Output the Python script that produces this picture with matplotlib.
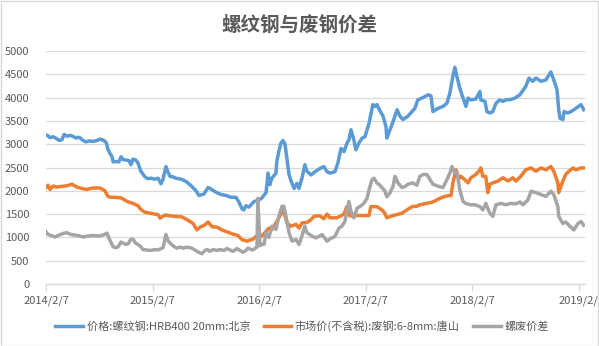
import matplotlib
matplotlib.use("Agg")
import matplotlib.pyplot as plt
import matplotlib.dates as mdates
from matplotlib.patches import Rectangle
import pandas as pd

plt.rcParams['font.family'] = ['Noto Sans CJK SC', 'DejaVu Sans']

title = "螺纹钢与废钢价差"
start_date = "2014-02-07"
series_names = ["价格:螺纹钢:HRB400 20mm:北京", "市场价(不含税):废钢:6-8mm:唐山", "螺废价差"]
tick_dates = ["2014-02-07", "2015-02-07", "2016-02-07", "2017-02-07", "2018-02-07", "2019-02-07"]
tick_labels = ["2014/2/7", "2015/2/7", "2016/2/7", "2017/2/7", "2018/2/7", "2019/2/"]
y_ticks = [0, 500, 1000, 1500, 2000, 2500, 3000, 3500, 4000, 4500, 5000]

# days since start_date, values
rebar_days = [0, 7, 14, 24, 34, 45, 55, 62, 72, 82, 92, 103, 110, 116, 127, 137, 147, 161, 175, 185,
              195, 206, 212, 219, 226, 230, 240, 250, 257, 264, 274, 284, 291, 298, 308, 315, 325, 339,
              349, 360, 373, 384, 394, 401, 411, 418, 425, 435, 445, 463, 480, 497, 514, 524, 541, 555,
              565, 582, 600, 617, 634, 651, 661, 672, 678, 685, 695, 713, 730, 740, 754, 761, 767, 774,
              788, 791, 798, 805, 812, 819, 826, 833, 843, 850, 860, 867, 877, 887, 894, 908, 922, 939,
              952, 963, 973, 990, 1000, 1011, 1021, 1031, 1038, 1045, 1055, 1062, 1072, 1083, 1093, 1107,
              1113, 1120, 1127, 1134, 1144, 1155, 1165, 1168, 1179, 1189, 1203, 1213, 1223, 1240, 1254,
              1264, 1274, 1288, 1298, 1309, 1319, 1326, 1343, 1360, 1374, 1384, 1394, 1401, 1408, 1418,
              1429, 1439, 1446, 1456, 1473, 1487, 1490, 1504, 1511, 1521, 1531, 1542, 1555, 1566, 1576,
              1593, 1607, 1624, 1644, 1655, 1668, 1679, 1696, 1713, 1730, 1740, 1751, 1757, 1761, 1771,
              1775, 1788, 1799, 1816, 1833, 1843]
rebar_vals = [3200, 3180, 3140, 3160, 3130, 3080, 3100, 3210, 3170, 3190, 3170, 3130, 3150, 3140, 3080,
              3050, 3070, 3060, 3080, 3110, 3090, 3040, 2900, 2800, 2740, 2620, 2630, 2620, 2730, 2670,
              2660, 2650, 2560, 2680, 2660, 2600, 2420, 2300, 2260, 2270, 2250, 2270, 2150, 2250, 2520,
              2400, 2310, 2300, 2270, 2250, 2200, 2110, 2000, 1900, 1930, 2070, 2040, 1970, 1920, 1900,
              1860, 1860, 1760, 1610, 1590, 1680, 1650, 1770, 1800, 1850, 1960, 2380, 2130, 2270, 2380,
              2630, 2850, 3020, 3080, 3000, 2670, 2340, 2160, 2050, 2160, 2050, 2270, 2560, 2420, 2340,
              2410, 2480, 2520, 2410, 2380, 2410, 2590, 2910, 2840, 3020, 3090, 3310, 3090, 2880, 3020,
              3130, 3160, 3450, 3630, 3850, 3810, 3850, 3720, 3600, 3380, 3130, 3310, 3480, 3740, 3600,
              3530, 3600, 3700, 3770, 3950, 3990, 4020, 4060, 4040, 3700, 3770, 3810, 3880, 4100, 4450,
              4650, 4450, 4200, 3990, 3810, 3990, 3950, 3970, 4130, 3950, 3920, 3700, 3670, 3700, 3880,
              3950, 3920, 3950, 3960, 3990, 4060, 4240, 4420, 4350, 4420, 4350, 4380, 4550, 4380, 4170,
              3740, 3560, 3530, 3700, 3670, 3700, 3770, 3850, 3740]

scrap_days = [0, 7, 14, 24, 38, 48, 62, 72, 89, 106, 123, 140, 161, 185, 202, 212, 223, 236, 257, 278,
              298, 315, 325, 339, 356, 373, 384, 391, 408, 428, 445, 466, 486, 504, 517, 528, 545, 555,
              569, 586, 603, 620, 641, 658, 672, 689, 709, 723, 737, 747, 764, 774, 788, 805, 812, 819,
              826, 839, 857, 867, 877, 894, 908, 918, 928, 939, 952, 963, 973, 997, 1021, 1031, 1041,
              1055, 1076, 1107, 1113, 1134, 1151, 1161, 1168, 1185, 1203, 1220, 1237, 1254, 1271, 1281,
              1305, 1326, 1350, 1367, 1384, 1388, 1394, 1405, 1415, 1422, 1435, 1446, 1456, 1473, 1487,
              1490, 1497, 1507, 1514, 1521, 1531, 1549, 1566, 1583, 1600, 1610, 1627, 1644, 1662, 1679,
              1696, 1713, 1730, 1740, 1754, 1757, 1771, 1781, 1792, 1806, 1816, 1833, 1843]
scrap_vals = [2070, 2120, 2030, 2100, 2080, 2090, 2100, 2110, 2140, 2080, 2050, 2030, 2060, 2060, 2000,
              1880, 1860, 1860, 1850, 1770, 1730, 1680, 1600, 1540, 1520, 1500, 1490, 1415, 1480, 1460,
              1450, 1440, 1370, 1300, 1160, 1220, 1270, 1330, 1230, 1220, 1160, 1120, 1070, 1040, 950,
              920, 960, 1040, 1020, 1080, 1200, 1170, 1310, 1500, 1600, 1460, 1310, 1240, 1280, 1200,
              1310, 1320, 1380, 1450, 1460, 1460, 1400, 1500, 1420, 1420, 1500, 1660, 1460, 1470, 1470,
              1470, 1660, 1660, 1590, 1520, 1420, 1460, 1490, 1520, 1590, 1660, 1670, 1700, 1730, 1760,
              1840, 1880, 1900, 1900, 2160, 2450, 2260, 2310, 2240, 2170, 2280, 2350, 2450, 2490, 2310,
              2310, 1960, 2140, 2170, 2210, 2280, 2210, 2280, 2210, 2310, 2450, 2490, 2420, 2490, 2450,
              2520, 2420, 2170, 1960, 2210, 2350, 2420, 2490, 2450, 2490, 2490]

spread_days = [0, 7, 14, 31, 48, 62, 72, 86, 99, 116, 127, 144, 161, 185, 199, 209, 219, 230, 240, 247,
               257, 264, 274, 281, 291, 298, 308, 315, 325, 332, 346, 356, 367, 377, 384, 394, 401, 411,
               418, 425, 439, 449, 459, 469, 483, 500, 517, 534, 545, 552, 562, 572, 586, 596, 610, 620,
               634, 641, 654, 665, 675, 685, 692, 702, 709, 719, 723, 726, 733, 737, 747, 754, 764, 774,
               788, 798, 809, 815, 822, 833, 843, 857, 867, 877, 887, 894, 911, 925, 935, 946, 963, 976,
               990, 1004, 1014, 1024, 1038, 1045, 1055, 1066, 1076, 1089, 1100, 1107, 1117, 1124, 1134,
               1144, 1161, 1168, 1179, 1189, 1196, 1206, 1220, 1230, 1240, 1257, 1271, 1281, 1292, 1305,
               1316, 1326, 1343, 1360, 1374, 1384, 1391, 1401, 1408, 1418, 1429, 1439, 1453, 1470, 1487,
               1497, 1507, 1521, 1531, 1542, 1559, 1576, 1593, 1610, 1624, 1634, 1651, 1662, 1679, 1696,
               1713, 1730, 1740, 1754, 1757, 1771, 1781, 1792, 1809, 1823, 1833, 1843]
spread_vals = [1120, 1060, 1050, 1010, 1060, 1090, 1100, 1060, 1050, 1030, 1010, 1030, 1040, 1030, 1060,
               1090, 940, 800, 780, 800, 900, 880, 850, 860, 960, 960, 870, 850, 800, 740, 730, 720, 730,
               740, 730, 760, 780, 1060, 930, 880, 800, 770, 790, 770, 790, 770, 700, 650, 720, 740, 700,
               740, 720, 740, 720, 760, 720, 700, 760, 720, 680, 720, 770, 740, 730, 780, 790, 1840, 820,
               850, 850, 1100, 1000, 1240, 1170, 1460, 1670, 1670, 1460, 1100, 920, 950, 850, 1030, 1240,
               1100, 1030, 990, 1020, 1060, 920, 980, 1020, 1200, 1240, 1340, 1770, 1560, 1420, 1630,
               1660, 1730, 1840, 2020, 2240, 2270, 2170, 2120, 2000, 1870, 1960, 2090, 2310, 2170, 2070,
               2090, 2140, 2170, 2120, 2310, 2350, 2350, 2240, 2140, 2100, 2070, 2240, 2380, 2520, 2380,
               2400, 2020, 1770, 1730, 1700, 1700, 1660, 1590, 1730, 1520, 1450, 1700, 1730, 1700, 1730,
               1720, 1760, 1700, 1800, 1990, 1960, 1920, 1880, 1990, 1920, 1660, 1450, 1300, 1330, 1260,
               1160, 1300, 1340, 1260]

colors = ["#5B9BD5", "#ED7D31", "#A5A5A5"]
text_color = "#595959"
grid_color = "#D9D9D9"

t0 = pd.Timestamp(start_date)
def to_dates(days):
    return t0 + pd.to_timedelta(days, unit="D")

fig = plt.figure(figsize=(5.99, 3.46), dpi=100)
fig.patches.append(Rectangle((0.001, 0.001), 0.997, 0.996, transform=fig.transFigure,
                             fill=False, edgecolor="#D9D9D9", linewidth=1.0))

ax = fig.add_axes([46 / 599, 62 / 346, 539 / 599, 233 / 346])

for days, vals, c, name in zip([rebar_days, scrap_days, spread_days],
                               [rebar_vals, scrap_vals, spread_vals], colors, series_names):
    ax.plot(to_dates(days), vals, color=c, lw=2.5, label=name, solid_joinstyle="round")

ax.set_ylim(0, 5000)
ax.set_yticks(y_ticks)
ax.set_xlim(t0, t0 + pd.Timedelta(days=1847))
ax.set_xticks([pd.Timestamp(d) for d in tick_dates])
ax.set_xticklabels(tick_labels)

ax.grid(axis="y", color=grid_color, lw=0.9)
ax.set_axisbelow(True)
for s in ["top", "right", "left"]:
    ax.spines[s].set_visible(False)
ax.spines["bottom"].set_color(grid_color)
ax.spines["bottom"].set_linewidth(0.9)
ax.tick_params(axis="y", length=0, pad=12, labelsize=8, labelcolor=text_color)
ax.tick_params(axis="x", length=5, width=0.9, color=grid_color, pad=3,
               labelsize=8, labelcolor=text_color)

fig.text(0.5, 1 - 25 / 346, title, ha="center", va="center", fontsize=14,
         fontweight="bold", color=text_color)

leg = fig.legend(loc="center", bbox_to_anchor=(302 / 599, 20 / 346), ncol=3, frameon=False,
                 fontsize=8, handlelength=2.5, columnspacing=1.2, handletextpad=0.3,
                 labelcolor=text_color)

fig.savefig("out.png", dpi=100)
